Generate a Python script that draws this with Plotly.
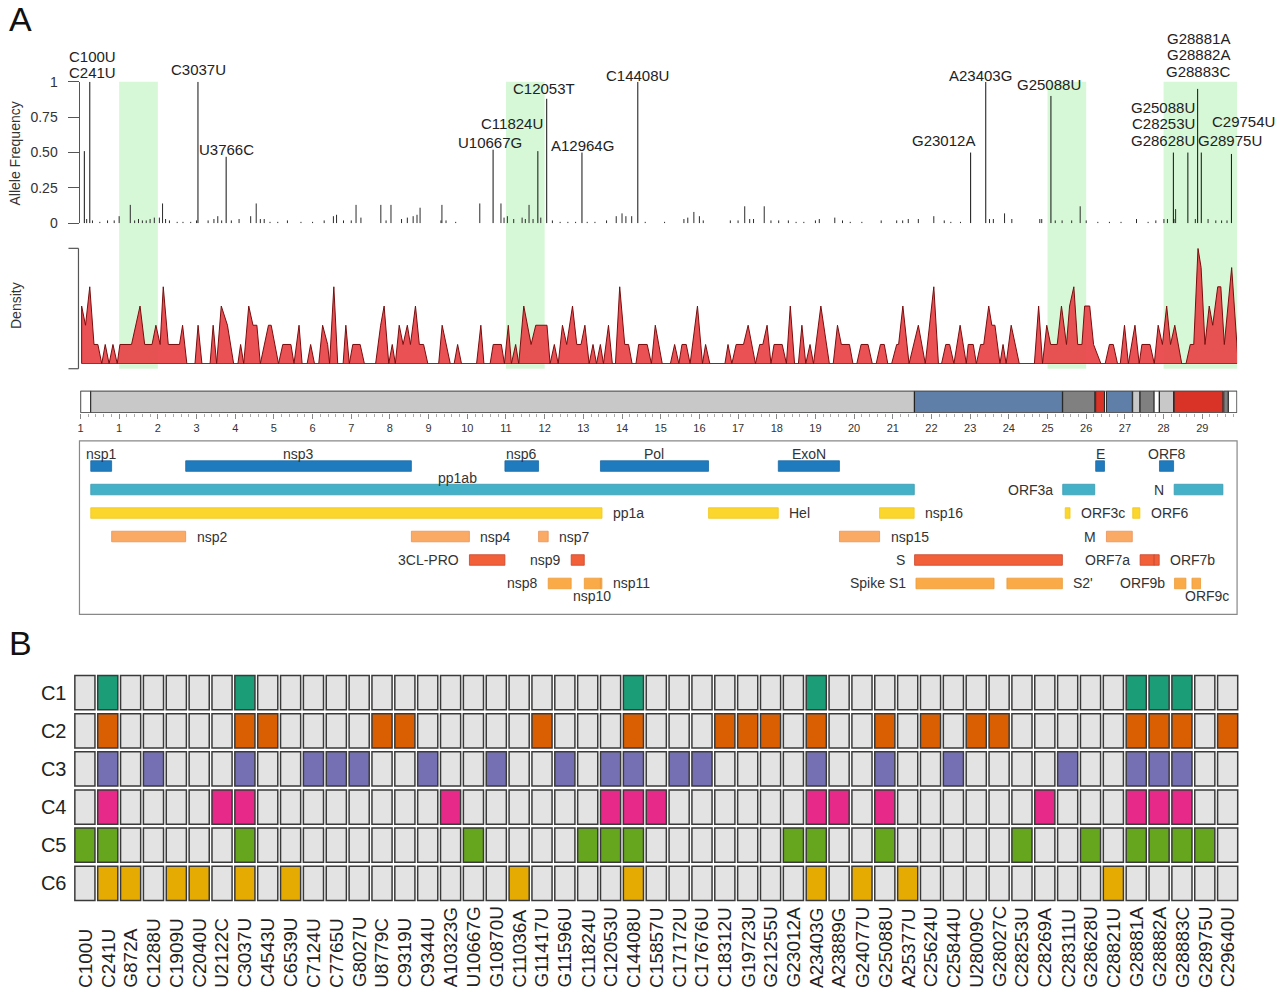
import plotly.graph_objects as go

W, H = 1280, 1002
FONT = "Liberation Sans, Arial, sans-serif"


# layout helpers: reference-picture pixel -> paper coordinate (small calibration)
def px(x):
    return ((x - 2.5) / 0.998) / W


def py(y):
    return 1 - ((y - 8.4) / 0.981) / H


# ---------------- data ----------------
highlight_start_kb = [1, 11, 25, 28]
highlight_end_kb = [2, 12, 26, 30]

labeled_pos = [100, 241, 3037, 3766, 10667, 11824, 12053, 12964, 14408,
               23012, 23403, 25088, 28253, 28628, 28881, 28975, 29754]
labeled_freq = [0.51, 1.0, 1.0, 0.47, 0.52, 0.51, 0.88, 0.50, 1.0,
                0.50, 1.0, 0.90, 0.50, 0.50, 0.95, 0.50, 0.49]

minor_pos = [160, 310, 500, 700, 872, 1000, 1288, 1400, 1500, 1600, 1700, 1800, 1909, 2040,
             2122, 2200, 2300, 2500, 2650, 2850, 3000, 3300, 3450, 3550, 3650, 3900, 4100,
             4400, 4543, 4650, 4750, 4900, 5100, 5350, 5700, 6000, 6300, 6539, 6620, 6800,
             7000, 7124, 7250, 7765, 7900, 8027, 8300, 8450, 8600, 8700, 8779, 9319, 9344,
             9450, 9700, 10323, 10870, 10950, 11036, 11200, 11417, 11500, 11596, 11700,
             11900, 12200, 12400, 12600, 12800, 13100, 13300, 13600, 13850, 14000, 14100,
             14250, 14600, 15100, 15600, 15700, 15857, 16000, 16100, 16800, 17000, 17172,
             17300, 17400, 17676, 17850, 18050, 18300, 18500, 18700, 19000, 19100, 19500,
             19700, 19900, 20200, 20700, 21100, 21255, 21400, 21660, 22060, 22330, 22500,
             22750, 23500, 23600, 23889, 24077, 24800, 24850, 25200, 25377, 25624, 25844,
             26000, 26300, 26600, 26900, 27300, 27600, 27800, 28009, 28100, 28269, 28311,
             28821, 29150, 29350, 29500, 29640]
minor_freq = [0.03, 0.02, 0.01, 0.02, 0.02, 0.05, 0.13, 0.02, 0.03, 0.02, 0.02, 0.03, 0.04, 0.04,
              0.14, 0.03, 0.02, 0.01, 0.01, 0.01, 0.02, 0.02, 0.03, 0.05, 0.02, 0.02, 0.03,
              0.05, 0.14, 0.03, 0.03, 0.01, 0.01, 0.02, 0.01, 0.01, 0.02, 0.05, 0.06, 0.02,
              0.02, 0.13, 0.04, 0.13, 0.02, 0.13, 0.03, 0.04, 0.05, 0.06, 0.11, 0.02, 0.13,
              0.02, 0.01, 0.14, 0.14, 0.04, 0.05, 0.03, 0.04, 0.03, 0.13, 0.03,
              0.04, 0.02, 0.01, 0.01, 0.01, 0.01, 0.01, 0.02, 0.05, 0.07, 0.05,
              0.05, 0.01, 0.01, 0.03, 0.04, 0.08, 0.05, 0.02, 0.02, 0.02, 0.12,
              0.03, 0.03, 0.12, 0.02, 0.02, 0.02, 0.01, 0.01, 0.02, 0.03, 0.04,
              0.02, 0.01, 0.01, 0.02, 0.02, 0.02, 0.03, 0.03, 0.05, 0.02, 0.01,
              0.01, 0.03, 0.03, 0.07, 0.03, 0.03, 0.03, 0.02, 0.02, 0.02, 0.12,
              0.02, 0.01, 0.01, 0.01, 0.03, 0.01, 0.02, 0.03, 0.03, 0.03, 0.10,
              0.03, 0.03, 0.02, 0.02, 0.02]

dens_kb = [0.03, 0.03, 0.13, 0.24, 0.35, 0.45, 0.55, 0.64, 0.74, 0.84, 0.95, 1.02, 1.32, 1.54,
           1.66, 1.85, 1.95, 2.06, 2.14, 2.27, 2.56, 2.64, 2.75, 2.96, 3.04, 3.14, 3.35, 3.43,
           3.52, 3.64, 3.80, 3.96, 4.07, 4.14, 4.22, 4.35, 4.46, 4.56, 4.65, 4.86, 4.93, 5.12,
           5.23, 5.44, 5.52, 5.65, 5.73, 5.86, 5.95, 6.05, 6.16, 6.26, 6.39, 6.44, 6.55, 6.65,
           6.79, 6.86, 6.95, 7.04, 7.23, 7.34, 7.63, 7.76, 7.85, 7.97, 8.06, 8.14, 8.24, 8.34,
           8.45, 8.53, 8.66, 8.76, 8.87, 8.98, 9.26, 9.35, 9.56, 9.66, 9.75, 9.85, 10.24, 10.35,
           10.43, 10.59, 10.67, 10.88, 10.96, 11.06, 11.14, 11.25, 11.33, 11.46, 11.65, 11.77,
           12.06, 12.14, 12.25, 12.35, 12.46, 12.57, 12.72, 12.83, 12.94, 13.04, 13.15, 13.25,
           13.34, 13.44, 13.52, 13.65, 13.75, 13.83, 13.94, 14.07, 14.17, 14.26, 14.36, 14.43,
           14.49, 14.65, 14.76, 14.86, 15.04, 15.25, 15.36, 15.47, 15.55, 15.66, 15.76, 15.95,
           16.08, 16.16, 16.27, 16.66, 16.74, 16.84, 16.95, 17.14, 17.26, 17.45, 17.56, 17.64,
           17.75, 17.85, 17.93, 18.14, 18.25, 18.35, 18.46, 18.56, 18.65, 18.75, 18.86, 18.95,
           19.14, 19.36, 19.46, 19.57, 19.67, 19.88, 19.97, 20.07, 20.18, 20.36, 20.47, 20.57,
           20.68, 20.78, 20.87, 20.97, 21.10, 21.15, 21.26, 21.42, 21.66, 21.84, 22.06, 22.18,
           22.26, 22.37, 22.47, 22.58, 22.74, 22.90, 22.95, 23.08, 23.16, 23.27, 23.35, 23.48,
           23.56, 23.64, 23.77, 23.85, 23.93, 24.06, 24.27, 24.66, 24.77, 24.87, 24.98, 25.08,
           25.25, 25.36, 25.49, 25.57, 25.68, 25.78, 25.89, 25.96, 26.09, 26.19, 26.38, 26.49,
           26.60, 26.70, 26.81, 26.88, 26.99, 27.09, 27.26, 27.37, 27.44, 27.65, 27.76, 27.86,
           27.97, 28.08, 28.18, 28.29, 28.47, 28.58, 28.69, 28.78, 28.89, 28.97, 29.07, 29.18,
           29.27, 29.40, 29.48, 29.57, 29.76, 29.93]
dens_val = [0, 3, 2, 4, 1, 1, 0, 1, 0, 1, 0, 1, 1, 3,
            1, 1, 2, 1, 4, 1, 1, 2, 0, 0, 2, 0, 0, 2,
            0, 3, 2, 0, 0, 1, 0, 3, 2, 2, 0, 2, 2, 0,
            1, 1, 0, 2, 0, 0, 1, 0, 0, 2, 1, 0, 4, 0,
            0, 2, 0, 1, 1, 0, 0, 2, 3, 0, 1, 0, 2, 1,
            2, 1, 3, 1, 1, 0, 0, 2, 0, 0, 1, 0, 0, 2,
            0, 0, 1, 1, 0, 2, 0, 1, 0, 3, 1, 2,
            2, 0, 1, 0, 2, 1, 3, 1, 1, 2, 0, 1,
            0, 1, 0, 2, 0, 0, 4, 1, 1, 0, 0, 1,
            1, 1, 0, 2, 0, 0, 1, 0, 1, 1, 0, 3,
            0, 1, 0, 0, 1, 0, 1, 1, 2, 0, 1, 1,
            2, 0, 1, 1, 0, 3, 0, 0, 2, 0, 1, 0,
            3, 0, 0, 2, 1, 1, 0, 0, 1, 1, 0, 0,
            1, 1, 0, 0, 1, 1, 3, 0, 2, 0, 4, 0,
            0, 1, 1, 0, 2, 0, 1, 1, 0, 1, 1, 3,
            2, 2, 0, 1, 0, 2, 0, 0, 3, 0, 2, 1,
            1, 3, 1, 3, 4, 1, 1, 3, 3, 1, 0, 0,
            1, 1, 0, 0, 2, 0, 2, 0, 1, 1, 0, 2,
            1, 3, 1, 2, 0, 0, 1, 1, 6, 5, 1, 3,
            2, 4, 4, 1, 5, 0]

genome_seg_names = ["5'UTR", "ORF1ab", "S", "ORF3a", "E", "M", "ORF6", "ORF7a", "ORF7b",
                    "ORF8", "N", "ORF10", "3'UTR"]
genome_seg_start = [1, 266, 21563, 25393, 26245, 26523, 27202, 27394, 27756, 27894, 28274, 29558, 29675]
genome_seg_end = [265, 21555, 25384, 26220, 26472, 27191, 27387, 27759, 27887, 28259, 29533, 29674, 29903]
genome_seg_color = ["#ffffff", "#c8c8c8", "#5f7ea8", "#808080", "#d93226", "#5f7ea8", "#c8c8c8",
                    "#808080", "#ffffff", "#c8c8c8", "#d93226", "#808080", "#ffffff"]

gene_names = ["nsp1", "nsp3", "nsp6", "Pol", "ExoN", "E", "ORF8",
              "pp1ab", "ORF3a", "N",
              "pp1a", "Hel", "nsp16", "ORF3c", "ORF6",
              "nsp2", "nsp4", "nsp7", "nsp15", "M",
              "3CL-PRO", "nsp9", "S", "ORF7a", "ORF7b",
              "nsp8", "nsp10", "nsp11", "Spike S1", "S2'", "ORF9b", "ORF9c"]
gene_start = [266, 2720, 10973, 13442, 18040, 26245, 27894,
              266, 25393, 28274,
              266, 16237, 20659, 25457, 27202,
              806, 8555, 11843, 19621, 26523,
              10055, 12686, 21563, 27394, 27756,
              12092, 13025, 13442, 21599, 23950, 28284, 28734]
gene_end = [805, 8554, 11842, 16236, 19620, 26472, 28259,
            21555, 26220, 29533,
            13483, 18039, 21552, 25582, 27387,
            2719, 10054, 12091, 20658, 27191,
            10972, 13024, 25384, 27759, 27887,
            12685, 13441, 13480, 23617, 25384, 28577, 28955]
gene_row = [1, 1, 1, 1, 1, 1, 1,
            2, 2, 2,
            3, 3, 3, 3, 3,
            4, 4, 4, 4, 4,
            5, 5, 5, 5, 5,
            6, 6, 6, 6, 6, 6, 6]
gene_label_side = ["above", "above", "above", "above", "above", "above", "above",
                   "above", "left", "left",
                   "right", "right", "right", "right", "right",
                   "right", "right", "right", "right", "left",
                   "left", "left", "left", "left", "right",
                   "left", "below", "right", "left", "right", "left", "below"]
row_colors = ["#1f7bbd", "#45b1c8", "#fbd62c", "#fbaa66", "#f2603a", "#fbaa48"]
row_edge = ["#1a6aa5", "#3a9bb0", "#f0c820", "#e8915a", "#c9452a", "#eb9a3a"]

mutations = ["C100U", "C241U", "G872A", "C1288U", "C1909U", "C2040U", "U2122C", "C3037U",
             "C4543U", "C6539U", "C7124U", "C7765U", "G8027U", "U8779C", "C9319U", "C9344U",
             "A10323G", "U10667G", "G10870U", "C11036A", "G11417U", "G11596U", "C11824U",
             "C12053U", "C14408U", "C15857U", "C17172U", "C17676U", "C18312U", "G19723U",
             "G21255U", "G23012A", "A23403G", "A23889G", "G24077U", "G25088U", "A25377U",
             "C25624U", "C25844U", "U28009C", "G28027C", "C28253U", "C28269A", "C28311U",
             "G28628U", "C28821U", "G28881A", "G28882A", "G28883C", "G28975U", "C29640U"]
cluster_names = ["C1", "C2", "C3", "C4", "C5", "C6"]
cluster_colors = ["#1b9e77", "#d95f02", "#7570b3", "#e7298a", "#66a61e", "#e6ab02"]
cluster_members = [
    ["C241U", "C3037U", "C14408U", "A23403G", "G28881A", "G28882A", "G28883C"],
    ["C241U", "C3037U", "C4543U", "U8779C", "C9319U", "G11417U", "C14408U", "C18312U",
     "G19723U", "G21255U", "A23403G", "G25088U", "C25624U", "U28009C", "G28027C",
     "G28881A", "G28882A", "G28883C", "C29640U"],
    ["C241U", "C1288U", "C3037U", "C7124U", "C7765U", "G8027U", "C9344U", "G10870U",
     "G11596U", "C12053U", "C14408U", "C17172U", "C17676U", "A23403G", "G25088U",
     "C25844U", "C28311U", "G28881A", "G28882A", "G28883C"],
    ["C241U", "U2122C", "C3037U", "A10323G", "C12053U", "C14408U", "C15857U", "A23403G",
     "A23889G", "G25088U", "C28269A", "G28881A", "G28882A", "G28883C"],
    ["C100U", "C241U", "C3037U", "U10667G", "C11824U", "C12053U", "C14408U", "G23012A",
     "A23403G", "G25088U", "C28253U", "G28628U", "G28881A", "G28882A", "G28883C", "G28975U"],
    ["C241U", "G872A", "C1909U", "C2040U", "C3037U", "C6539U", "C11036A", "C14408U",
     "A23403G", "G24077U", "A25377U", "C28821U"],
]

# ---------------- figure ----------------
fig = go.Figure()


def spikes(pos, freq):
    xs, ys = [], []
    for p, f in zip(pos, freq):
        xs += [p / 1000, p / 1000, None]
        ys += [0, f, None]
    return xs, ys


mx, my = spikes(minor_pos, minor_freq)
fig.add_trace(go.Scatter(x=mx, y=my, mode="lines", line=dict(color="#2b2b2b", width=1),
                         xaxis="x", yaxis="y", hoverinfo="skip"))
lx, ly = spikes(labeled_pos, labeled_freq)
fig.add_trace(go.Scatter(x=lx, y=ly, mode="lines", line=dict(color="#111111", width=1),
                         xaxis="x", yaxis="y", hoverinfo="skip"))

# density
fig.add_trace(go.Scatter(x=dens_kb, y=dens_val, mode="lines", fill="tozeroy",
                         fillcolor="rgba(232,62,66,0.9)", line=dict(color="#7a0d0d", width=1),
                         xaxis="x", yaxis="y2", hoverinfo="skip"))
fig.add_trace(go.Scatter(x=[dens_kb[0], dens_kb[-1]], y=[0, 0], mode="lines",
                         line=dict(color="#7a0d0d", width=1.5), xaxis="x", yaxis="y2",
                         hoverinfo="skip"))

# genome bar
fig.add_trace(go.Bar(
    y=[0.5] * len(genome_seg_names),
    x=[(e - s + 1) / 1000 for s, e in zip(genome_seg_start, genome_seg_end)],
    base=[(s - 1) / 1000 for s in genome_seg_start],
    orientation="h", width=1.0,
    marker=dict(color=genome_seg_color, line=dict(color="#222222", width=1)),
    xaxis="x", yaxis="y3", hoverinfo="skip"))

# gene annotation bars
for r in range(1, 7):
    idx = [i for i in range(len(gene_names)) if gene_row[i] == r]
    fig.add_trace(go.Bar(
        y=[r] * len(idx),
        x=[(gene_end[i] - gene_start[i]) / 1000 for i in idx],
        base=[gene_start[i] / 1000 for i in idx],
        orientation="h", width=0.45,
        marker=dict(color=row_colors[r - 1], line=dict(color=row_edge[r - 1], width=0.8)),
        xaxis="x", yaxis="y4", hoverinfo="skip"))

# cluster grid
for r, (cname, ccol, members) in enumerate(zip(cluster_names, cluster_colors, cluster_members)):
    colors = [ccol if m in members else "#e3e3e3" for m in mutations]
    fig.add_trace(go.Bar(
        x=mutations, y=[0.9] * len(mutations), base=[r + 0.05] * len(mutations),
        width=0.88,
        marker=dict(color=colors, line=dict(color="#3a3a3a", width=1.5)),
        xaxis="x5", yaxis="y5", hoverinfo="skip"))

shapes = []
for s, e in zip(highlight_start_kb, highlight_end_kb):
    shapes.append(dict(type="rect", xref="x", yref="paper", x0=s, x1=e, y0=py(368), y1=py(82),
                       fillcolor="#d7f8d7", line=dict(width=0), layer="below"))
# density bracket
shapes.append(dict(type="line", xref="paper", yref="paper", x0=px(78), x1=px(78), y0=py(368),
                   y1=py(248), line=dict(color="#555", width=1.2)))
shapes.append(dict(type="line", xref="paper", yref="paper", x0=px(68), x1=px(78), y0=py(248),
                   y1=py(248), line=dict(color="#555", width=1.2)))
shapes.append(dict(type="line", xref="paper", yref="paper", x0=px(68), x1=px(78), y0=py(368),
                   y1=py(368), line=dict(color="#555", width=1.2)))
# genome bar frame
shapes.append(dict(type="rect", xref="x", yref="y3", x0=0, x1=29.903, y0=0, y1=1,
                   line=dict(color="#555", width=1.5)))
# gene box frame
shapes.append(dict(type="rect", xref="paper", yref="paper", x0=px(79), x1=px(1237), y0=py(613),
                   y1=py(440), line=dict(color="#888", width=1.2)))

ann = []
tf = dict(family=FONT, size=15, color="#222")
spike_labels = [("C100U", 92, 57), ("C241U", 92, 73), ("C3037U", 198, 70), ("U3766C", 226, 149),
                ("U10667G", 490, 142), ("C11824U", 512, 124), ("C12053T", 544, 89),
                ("A12964G", 582, 145), ("C14408U", 637, 76), ("G23012A", 943, 140),
                ("A23403G", 980, 76), ("G25088U", 1049, 85), ("G28881A", 1198, 39),
                ("G28882A", 1198, 55), ("G28883C", 1198, 72), ("G25088U", 1163, 108),
                ("C28253U", 1163, 124), ("G28628U", 1163, 140), ("C29754U", 1243, 122),
                ("G28975U", 1230, 140)]
for t, x, y in spike_labels:
    ann.append(dict(text=t, x=px(x), y=py(y), xref="paper", yref="paper", showarrow=False,
                    font=tf, xanchor="center", yanchor="middle"))

gf = dict(family=FONT, size=14, color="#333")
for i, name in enumerate(gene_names):
    r = gene_row[i]
    s = gene_start[i] / 1000
    e = gene_end[i] / 1000
    side = gene_label_side[i]
    if side == "above":
        x = (s + e) / 2
        if name == "pp1ab":
            x = 9.74
        a = dict(x=x, y=r, xanchor="center", yanchor="bottom", yshift=2)
    elif side == "below":
        a = dict(x=(s + e) / 2, y=r, xanchor="center", yanchor="top", yshift=-3,
                 xshift=11 if name == "ORF9c" else 0)
    elif side == "left":
        a = dict(x=s, y=r, xanchor="right", yanchor="middle", xshift=-8)
    else:
        a = dict(x=e, y=r, xanchor="left", yanchor="middle", xshift=9)
    a.update(text=name, xref="x", yref="y4", showarrow=False, font=gf)
    ann.append(a)

# column labels of the cluster grid (bottom aligned)
for m in mutations:
    ann.append(dict(text=m, x=m, y=py(987), xref="x5", yref="paper", showarrow=False,
                    textangle=-90, xanchor="center", yanchor="bottom",
                    font=dict(family=FONT, size=19, color="#222")))

ann.append(dict(text="A", x=px(20), y=py(19), xref="paper", yref="paper", showarrow=False,
                font=dict(family=FONT, size=34, color="#111"), xanchor="center", yanchor="middle"))
ann.append(dict(text="B", x=px(20), y=py(641), xref="paper", yref="paper", showarrow=False,
                font=dict(family=FONT, size=34, color="#111"), xanchor="center", yanchor="middle"))
ann.append(dict(text="Allele Frequency", x=px(15), y=py(153), xref="paper", yref="paper",
                showarrow=False, textangle=-90, xanchor="center", yanchor="middle",
                font=dict(family=FONT, size=14, color="#333")))
ann.append(dict(text="Density", x=px(15), y=py(305), xref="paper", yref="paper",
                showarrow=False, textangle=-90, xanchor="center", yanchor="middle",
                font=dict(family=FONT, size=14, color="#333")))

fig.update_layout(
    width=W, height=H, margin=dict(l=0, r=0, t=0, b=0),
    paper_bgcolor="white", plot_bgcolor="white", showlegend=False,
    barmode="overlay", font=dict(family=FONT, color="#222"),
    shapes=shapes, annotations=ann,
    xaxis=dict(domain=[px(80), px(1237)], range=[0, 29.9], anchor="y3",
               showgrid=False, zeroline=False, showline=False,
               tickmode="array", tickvals=list(range(0, 30)),
               ticktext=["1"] + [str(i) for i in range(1, 30)],
               ticks="outside", ticklen=5, tickcolor="#888",
               tickfont=dict(family=FONT, size=11, color="#333"),
               minor=dict(tickmode="linear", tick0=0, dtick=0.2, ticks="outside",
                          ticklen=3, tickcolor="#aaa")),
    yaxis=dict(domain=[py(223), py(82)], range=[0, 1], anchor="x",
               tickmode="array", tickvals=[0, 0.25, 0.5, 0.75, 1],
               ticktext=["0", "0.25", "0.50", "0.75", "1"], ticks="outside", ticklen=11,
               ticklabelstandoff=8,
               tickcolor="#555", showline=True, linecolor="#555", showgrid=False,
               zeroline=False, tickfont=dict(family=FONT, size=14, color="#333")),
    yaxis2=dict(domain=[py(363), py(248)], range=[0, 6], anchor="x", visible=False),
    yaxis3=dict(domain=[py(412), py(390)], range=[0, 1], anchor="x", visible=False),
    yaxis4=dict(domain=[py(613), py(440)], range=[7.32, -0.07], anchor="x", visible=False),
    xaxis5=dict(domain=[px(73), px(1239)], anchor="y5", type="category",
                range=[-0.5, len(mutations) - 0.5], showgrid=False,
                zeroline=False, showline=False, ticks="", showticklabels=False),
    yaxis5=dict(domain=[py(900), py(672)], anchor="x5", range=[6, 0],
                tickmode="array", tickvals=[i + 0.5 for i in range(6)],
                ticktext=cluster_names, showgrid=False, zeroline=False, ticks="",
                ticklabelstandoff=6,
                tickfont=dict(family=FONT, size=20, color="#222")),
)

fig.write_html(
    "out.html",
    config={"displayModeBar": False},
    post_script="document.body.style.margin='0';document.body.style.overflow='hidden';",
)
